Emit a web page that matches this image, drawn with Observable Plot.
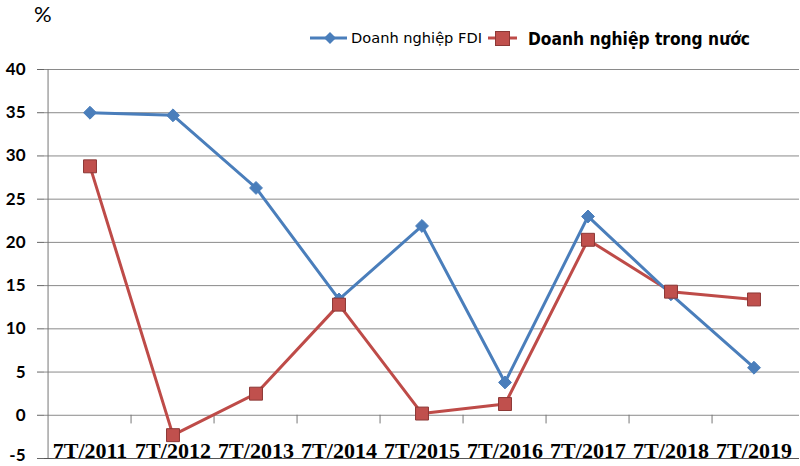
<!DOCTYPE html>
<html><head><meta charset="utf-8">
<script src="https://cdn.jsdelivr.net/npm/d3@7"></script>
<script src="https://cdn.jsdelivr.net/npm/@observablehq/plot@0.6"></script>
<style>
body{margin:0;background:#fff;}
#wrap{position:relative;width:800px;height:466px;}
#overlay{position:absolute;left:0;top:0;pointer-events:none;}
</style></head>
<body>
<div id="wrap">
<div id="chart"></div>
<svg id="overlay" width="800" height="60"></svg>
</div>
<script>
const categories = ["7T/2011","7T/2012","7T/2013","7T/2014","7T/2015","7T/2016","7T/2017","7T/2018","7T/2019"];
const fdi = [35.0, 34.7, 26.3, 13.4, 21.9, 3.8, 23.0, 14.0, 5.5];
const domestic = [28.8, -2.3, 2.5, 12.8, 0.2, 1.3, 20.3, 14.3, 13.4];
const yTicks = [-5, 0, 5, 10, 15, 20, 25, 30, 35, 40];
const seriesNames = ["Doanh nghiệp FDI", "Doanh nghiệp trong nước"];
const unitLabel = "%";

const blue = "#4a7ebb", red = "#be4b48";
const W = 800, H = 466, ML = 44, MR = 1, MT = 69, MB = 8;
const bw = (W - ML - MR) / categories.length;

const fdiData = categories.map((c, i) => ({c, v: fdi[i]}));
const domData = categories.map((c, i) => ({c, v: domestic[i]}));

const axisStyle = {label: null, tickSize: 7, tickPadding: 12, stroke: "#666", fill: "#000",
  fontSize: 17, fontWeight: "bold", fontFamily: "Lato, 'Liberation Sans', sans-serif", tickFormat: d => String(d)};

const chart = Plot.plot({
  width: W, height: H,
  marginLeft: ML, marginRight: MR, marginTop: MT, marginBottom: MB,
  x: {type: "band", domain: categories, padding: 0, axis: null},
  y: {domain: [-5, 40], axis: null},
  marks: [
    Plot.ruleY(yTicks.filter(d => d > -5), {stroke: "#8a8a8a", strokeWidth: 1, strokeOpacity: 1}),
    Plot.ruleY([-5], {stroke: "#555", strokeWidth: 1.2}),
    Plot.axisY({...axisStyle, ticks: yTicks.filter(d => d > -5)}),
    Plot.axisY({...axisStyle, ticks: [-5]}),
    Plot.ruleX([categories[0]], {dx: -bw/2, stroke: "#777", strokeWidth: 1}),
    Plot.ruleX(categories.slice(1), {dx: -bw/2, y1: 0, y2: -1, stroke: "#777", strokeWidth: 1}),
    Plot.text(categories, {x: d => d, frameAnchor: "bottom", lineAnchor: "bottom", dy: -1,
      fontSize: 22, fontWeight: "bold", fontFamily: "'Liberation Serif', 'DejaVu Serif', serif", fill: "#000"}),
    Plot.line(domData, {x: "c", y: "v", stroke: red, strokeWidth: 3}),
    Plot.line(fdiData, {x: "c", y: "v", stroke: blue, strokeWidth: 3}),
    Plot.dot(fdiData, {x: "c", y: "v", symbol: "diamond2", r: 5.8, fill: blue, stroke: blue, strokeWidth: 1}),
    Plot.dot(domData, {x: "c", y: "v", symbol: "square", r: 7.3, fill: "#c0504d", stroke: "#8c3836", strokeWidth: 1})
  ]
});
document.getElementById("chart").appendChild(chart);

// nudge the bottom (-5) tick label up slightly so it stays inside the picture
d3.select(chart).selectAll("g[aria-label='y-axis tick label']").filter(function(){
  return d3.select(this).selectAll("text").size() === 1;
}).attr("transform", function(){ return (this.getAttribute("transform") || "") + " translate(0,-3)"; });

const ov = d3.select("#overlay");
ov.append("text").attr("x", 34).attr("y", 22).attr("font-family", "Lato, 'Liberation Sans', sans-serif")
  .attr("font-size", 22).attr("fill", "#000").text(unitLabel);
// legend: FDI
ov.append("line").attr("x1", 310).attr("x2", 347).attr("y1", 38).attr("y2", 38).attr("stroke", blue).attr("stroke-width", 3);
ov.append("path").attr("d", "M330,32 L336,38 L330,44 L324,38Z").attr("fill", blue);
ov.append("text").attr("x", 351).attr("y", 43).attr("font-family", "'DejaVu Sans', sans-serif").attr("font-size", 13.5)
  .attr("textLength", 131).attr("lengthAdjust", "spacingAndGlyphs").attr("fill", "#000").text(seriesNames[0]);
// legend: domestic
ov.append("line").attr("x1", 488).attr("x2", 517).attr("y1", 38).attr("y2", 38).attr("stroke", red).attr("stroke-width", 3);
ov.append("rect").attr("x", 495.5).attr("y", 31.5).attr("width", 14).attr("height", 14).attr("fill", "#c0504d").attr("stroke", "#8c3836");
ov.append("text").attr("x", 528).attr("y", 45).attr("font-family", "'DejaVu Sans', sans-serif").attr("font-weight", "bold").attr("font-size", 17.5)
  .attr("textLength", 222).attr("lengthAdjust", "spacingAndGlyphs").attr("fill", "#000").text(seriesNames[1]);
</script>
</body></html>
